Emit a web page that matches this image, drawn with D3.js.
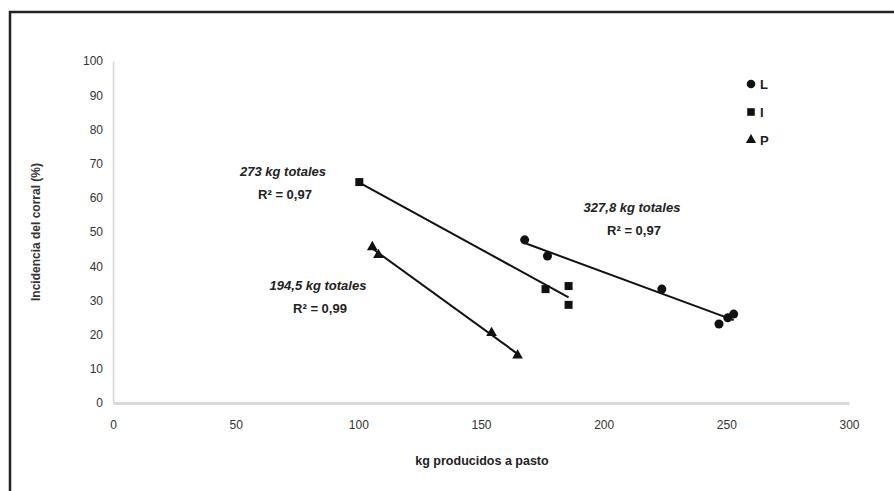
<!DOCTYPE html>
<html>
<head>
<meta charset="utf-8">
<script src="https://cdn.jsdelivr.net/npm/d3@7"></script>
<style>
  body { margin: 0; background: #fff; }
  text { font-family: "Liberation Sans", Arial, sans-serif; }
</style>
</head>
<body>
<script>
// data
var seriesNames = ["L", "I", "P"];
var xL = [167.8, 177.1, 223.7, 247, 250.6, 253];
var yL = [47.7, 43.0, 33.3, 23.1, 24.9, 26.0];
var xI = [100.4, 176.3, 185.7, 185.7];
var yI = [64.6, 33.3, 34.2, 28.7];
var xP = [105.7, 108.2, 154.3, 164.9];
var yP = [45.6, 43.3, 20.5, 13.9];
var xTicks = [0, 50, 100, 150, 200, 250, 300];
var yTicks = [0, 10, 20, 30, 40, 50, 60, 70, 80, 90, 100];
var notes = [
    ["273 kg totales", "R\u00b2 = 0,97"],
    ["327,8 kg totales", "R\u00b2 = 0,97"],
    ["194,5 kg totales", "R\u00b2 = 0,99"]
];

var width = 894, height = 491;

var svg = d3.select("body").append("svg")
    .attr("width", width)
    .attr("height", height);

// outer frame (runs past right/bottom edge)
svg.append("rect")
    .attr("x", 10).attr("y", 12)
    .attr("width", 900).attr("height", 500)
    .attr("fill", "none")
    .attr("stroke", "#222")
    .attr("stroke-width", 2.5);

var x = d3.scaleLinear().domain([0, 300]).range([113, 849]);
var y = d3.scaleLinear().domain([0, 100]).range([403, 61]);

// y axis
var yAxis = d3.axisLeft(y).tickValues(yTicks).tickSize(0).tickPadding(10);
var gy = svg.append("g").attr("transform", "translate(" + x(0) + ",0)").call(yAxis);
gy.select(".domain").attr("stroke", "#d6d6d6").attr("stroke-width", 1.5);
gy.selectAll("text").attr("font-size", 12).attr("fill", "#333");

// x axis
var xAxis = d3.axisBottom(x).tickValues(xTicks).tickSize(0).tickPadding(17);
var gx = svg.append("g").attr("transform", "translate(0," + y(0) + ")").call(xAxis);
gx.select(".domain").attr("stroke", "#d9d9d9").attr("stroke-width", 3);
gx.selectAll("text").attr("font-size", 12).attr("fill", "#333");

// axis titles
svg.append("text")
    .attr("transform", "translate(40," + ((y(0) + y(100)) / 2) + ") rotate(-90)")
    .attr("text-anchor", "middle")
    .attr("font-size", 12).attr("font-weight", "bold").attr("fill", "#333")
    .text("Incidencia del corral (%)");

svg.append("text")
    .attr("x", 482).attr("y", 465)
    .attr("text-anchor", "middle")
    .attr("font-size", 12.5).attr("font-weight", "bold").attr("fill", "#222")
    .text("kg producidos a pasto");

// least squares trend line across the data range
function trend(xs, ys) {
    var mx = d3.mean(xs), my = d3.mean(ys);
    var sxy = d3.sum(xs, function(v, i) { return (v - mx) * (ys[i] - my); });
    var sxx = d3.sum(xs, function(v) { return (v - mx) * (v - mx); });
    var b = sxy / sxx, a = my - b * mx;
    var x0 = d3.min(xs), x1 = d3.max(xs);
    return [[x0, a + b * x0], [x1, a + b * x1]];
}

var series = [
    { name: "L", xs: xL, ys: yL, shape: d3.symbolCircle, size: 64 },
    { name: "I", xs: xI, ys: yI, shape: d3.symbolSquare, size: 64 },
    { name: "P", xs: xP, ys: yP, shape: d3.symbolTriangle, size: 50 }
];

var line = d3.line()
    .x(function(d) { return x(d[0]); })
    .y(function(d) { return y(d[1]); });

series.forEach(function(s) {
    svg.append("path")
        .attr("d", line(trend(s.xs, s.ys)))
        .attr("fill", "none")
        .attr("stroke", "#111")
        .attr("stroke-width", 2);
});

series.forEach(function(s) {
    svg.selectAll(null)
        .data(s.xs)
        .enter()
        .append("path")
        .attr("d", d3.symbol().type(s.shape).size(s.size))
        .attr("transform", function(d, i) {
            return "translate(" + x(d) + "," + y(s.ys[i]) + ")";
        })
        .attr("fill", "#111");
});

// annotations
var noteAnchors = [[283, 172], [632, 208], [318, 286]];
notes.forEach(function(n, i) {
    svg.append("text")
        .attr("x", noteAnchors[i][0]).attr("y", noteAnchors[i][1] + 4)
        .attr("text-anchor", "middle")
        .attr("font-size", 13).attr("font-weight", "bold").attr("font-style", "italic")
        .attr("fill", "#222")
        .text(n[0]);
    svg.append("text")
        .attr("x", noteAnchors[i][0] + 2).attr("y", noteAnchors[i][1] + 27)
        .attr("text-anchor", "middle")
        .attr("font-size", 13).attr("font-weight", "bold")
        .attr("fill", "#222")
        .text(n[1]);
});

// legend
var legend = svg.append("g").attr("transform", "translate(751,84)");
series.forEach(function(s, i) {
    var g = legend.append("g").attr("transform", "translate(0," + (i * 28) + ")");
    g.append("path")
        .attr("d", d3.symbol().type(s.shape).size(s.size * 0.9))
        .attr("fill", "#111");
    g.append("text")
        .attr("x", 9).attr("y", 5)
        .attr("font-size", 13).attr("font-weight", "bold").attr("fill", "#222")
        .text(seriesNames[i]);
});
</script>
</body>
</html>
